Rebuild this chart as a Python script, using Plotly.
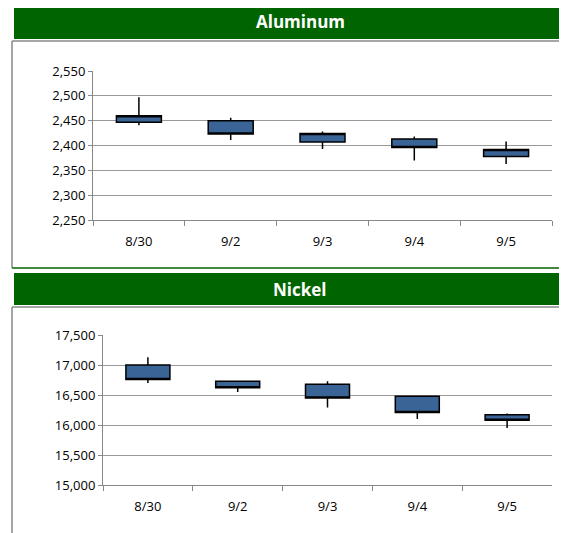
import plotly.graph_objects as go

dates = ['8/30', '9/2', '9/3', '9/4', '9/5']

# aluminum prices
al_open = [2447, 2450, 2407, 2413, 2378]
al_high = [2497, 2456, 2428, 2418, 2408]
al_low = [2441, 2411, 2393, 2370, 2363]
al_close = [2460, 2423, 2424, 2396, 2392]

# nickel prices
ni_open = [17000, 16730, 16680, 16480, 16170]
ni_high = [17130, 16740, 16730, 16480, 16190]
ni_low = [16700, 16550, 16290, 16100, 15950]
ni_close = [16760, 16620, 16450, 16210, 16080]

W, H = 567, 533
OFF = 8  # page body margin
box = dict(line=dict(color='black', width=1.5), fillcolor='#3A6496')

fig = go.Figure()
fig.add_trace(go.Candlestick(x=dates, open=al_open, high=al_high, low=al_low, close=al_close,
                             increasing=box, decreasing=box, whiskerwidth=0, xaxis='x', yaxis='y'))
fig.add_trace(go.Candlestick(x=dates, open=ni_open, high=ni_high, low=ni_low, close=ni_close,
                             increasing=box, decreasing=box, whiskerwidth=0, xaxis='x2', yaxis='y2'))

def py(p):
    return 1 - (p - OFF) / H

def px_(p):
    return (p - OFF) / W

xax = dict(type='category', rangeslider=dict(visible=False), showline=True, linecolor='#888',
           ticks='outside', tickson='boundaries', tickcolor='#888', ticklen=5, automargin=False,
           ticklabelstandoff=9,
           showgrid=False, tickfont=dict(size=13, color='black'), domain=[px_(93), px_(552)])
yax = dict(showline=True, linecolor='#888', gridcolor='#999', ticks='outside', tickcolor='#888',
           ticklen=4, tickformat=',', tickfont=dict(size=13, color='black'), zeroline=False,
           automargin=False)

fig.update_layout(
    width=W, height=H, margin=dict(l=0, r=0, t=0, b=0, pad=0),
    paper_bgcolor='white', plot_bgcolor='white', showlegend=False,
    font=dict(family='Open Sans'),
    xaxis=dict(xax, anchor='y'),
    xaxis2=dict(xax, anchor='y2', domain=[px_(103), px_(552)]),
    yaxis=dict(yax, range=[2250, 2550], dtick=50, domain=[py(220), py(71)], anchor='x'),
    yaxis2=dict(yax, range=[15000, 17500], dtick=500, domain=[py(485), py(335)], anchor='x2'),
)

for top, bot, title, frame_bot in [(5, 39, 'Aluminum', 268), (273, 305, 'Nickel', 541)]:
    fig.add_shape(type='rect', xref='paper', yref='paper', x0=px_(14), x1=1, y0=py(bot), y1=py(top),
                  fillcolor='#006400', line_width=0, layer='below')
    fig.add_annotation(text='<b>' + title + '</b>', xref='paper', yref='paper', x=px_(300),
                       y=py((top + bot) / 2), yanchor='middle', xanchor='center', showarrow=False,
                       font=dict(size=17, color='white'))
    fig.add_shape(type='line', xref='paper', yref='paper', x0=px_(12), x1=px_(12),
                  y0=py(frame_bot), y1=py(bot + 2), line=dict(color='#888', width=1.5))
    fig.add_shape(type='line', xref='paper', yref='paper', x0=px_(12), x1=1,
                  y0=py(bot + 2), y1=py(bot + 2), line=dict(color='#888', width=1.5))

fig.add_shape(type='line', xref='paper', yref='paper', x0=px_(12), x1=1, y0=py(268), y1=py(268),
              line=dict(color='#006400', width=1.5))

fig.write_html('out.html')
